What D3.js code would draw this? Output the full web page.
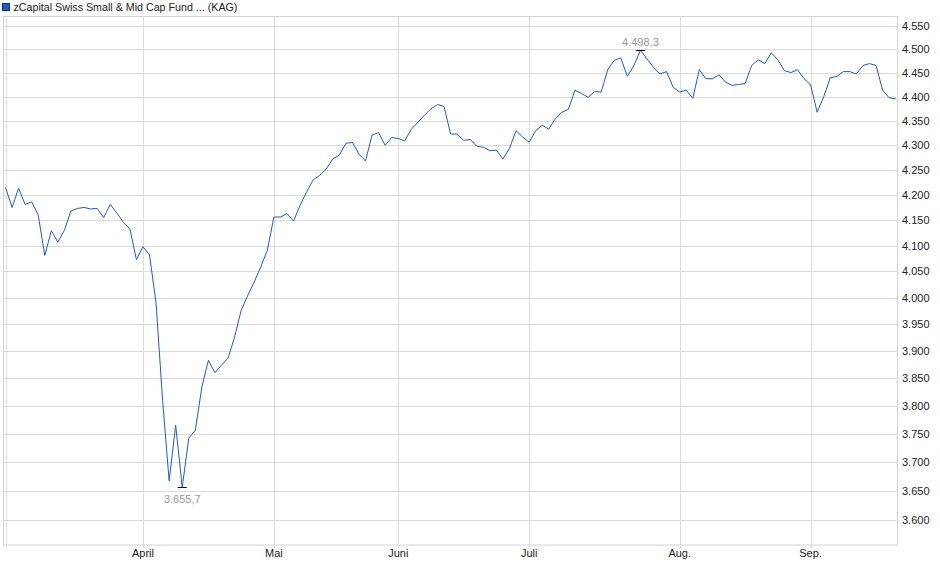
<!DOCTYPE html>
<html><head><meta charset="utf-8">
<script src="https://cdn.jsdelivr.net/npm/d3@7"></script>
<style>
html,body{margin:0;padding:0;background:#fff;}
svg{display:block;font-family:"Liberation Sans",Arial,sans-serif;}
</style></head><body>
<svg id="c" width="940" height="579"></svg>
<script>
const seriesName = "zCapital Swiss Small & Mid Cap Fund ... (KAG)";
const values = [
4215,4175,4213,4181,4186,4160,4081,4129,4107,4130,
4168,4173,4175,4172,4173,4155,4181,4164,4146,4133,
4073,4098,4082,3990,3810,3667,3765,3655.7,3742,3756,
3834,3883,3860,3874,3887,3926,3976,4004,4030,4059,
4091,4156,4156,4163,4148,4179,4206,4230,4239,4252,
4272,4280,4304,4306,4282,4268,4321,4326,4300,4316,
4314,4309,4333,4347,4362,4375,4384,4380,4323,4323,
4310,4312,4298,4296,4289,4290,4272,4294,4330,4317,
4306,4330,4341,4333,4355,4368,4374,4414,4407,4399,
4411,4410,4457,4477,4482,4443,4466,4498.3,4480,4462,
4448,4453,4420,4410,4414,4397,4457,4438,4438,4446,
4431,4424,4426,4428,4466,4478,4470,4493,4478,4455,
4451,4457,4438,4425,4368,4400,4440,4443,4453,4453,
4448,4466,4470,4466,4414,4398,4396
];
const monthLabels = ["April","Mai","Juni","Juli","Aug.","Sep."];
const monthIndex = [21,41,60,80,103,123];
const yTicks = [3600,3650,3700,3750,3800,3850,3900,3950,4000,4050,4100,4150,4200,4250,4300,4350,4400,4450,4500,4550];
const yDomain = [3557,4571];

const de = d3.formatLocale({decimal:",",thousands:".",grouping:[3],currency:["","€"]});
const fmtTick = de.format(",");
const fmtVal = de.format(",.1f");

const svg = d3.select("#c");
const L = 3.5, R = 897.5, T = 16.5, B = 545;
const x = d3.scaleLinear().domain([0, values.length-1]).range([5.5, 895.7]);
const y = d3.scaleLog().domain(yDomain).range([B, T]);
const grid = "#dcdcdc";

svg.append("g").selectAll("line").data(yTicks).join("line")
  .attr("x1", L).attr("x2", R)
  .attr("y1", d => Math.round(y(d))+0.5).attr("y2", d => Math.round(y(d))+0.5)
  .attr("stroke", grid);
svg.append("g").selectAll("line").data(monthIndex).join("line")
  .attr("x1", d => Math.round(x(d))+0.5).attr("x2", d => Math.round(x(d))+0.5)
  .attr("y1", T).attr("y2", B+3)
  .attr("stroke", grid);
svg.append("line").attr("x1", Math.round(x(0))+0.5).attr("x2", Math.round(x(0))+0.5)
  .attr("y1", T).attr("y2", B+3).attr("stroke", grid);
svg.append("rect").attr("x", L).attr("y", T).attr("width", R-L).attr("height", B-T)
  .attr("fill","none").attr("stroke","#d4d4d4");

svg.append("g").selectAll("text").data(yTicks).join("text")
  .attr("x", 902).attr("y", d => y(d)+4)
  .attr("font-size", 11).attr("fill", "#222")
  .text(d => fmtTick(d));
svg.append("g").selectAll("text").data(monthIndex).join("text")
  .attr("x", d => x(d)).attr("y", 557)
  .attr("text-anchor","middle").attr("font-size", 11).attr("fill", "#222")
  .text((d,i) => monthLabels[i]);

const line = d3.line().x((d,i) => x(i)).y(d => y(d));
svg.append("path").datum(values).attr("d", line)
  .attr("fill","none").attr("stroke","#1f5bc4").attr("stroke-width",1)
  .attr("stroke-linejoin","round");

const iMax = d3.maxIndex(values), iMin = d3.minIndex(values);
[[iMax,-1],[iMin,1]].forEach(([i,dir]) => {
  const px = x(i), py = Math.round(y(values[i]))+0.5;
  svg.append("line").attr("x1", px-4.5).attr("x2", px+4.5).attr("y1", py).attr("y2", py)
    .attr("stroke","#000").attr("stroke-width",1);
  svg.append("text").attr("x", px).attr("y", dir<0 ? py-5 : py+15)
    .attr("text-anchor","middle").attr("font-size", 11).attr("fill","#9a9a9a")
    .text(fmtVal(values[i]));
});

svg.append("rect").attr("x", 2.5).attr("y", 3.5).attr("width", 7).attr("height", 7)
  .attr("fill","#1f5bc4").attr("stroke","#0b2f73");
svg.append("text").attr("x", 13.5).attr("y", 11).attr("font-size", 10.7).attr("fill","#222")
  .text(seriesName);
</script>
</body></html>
